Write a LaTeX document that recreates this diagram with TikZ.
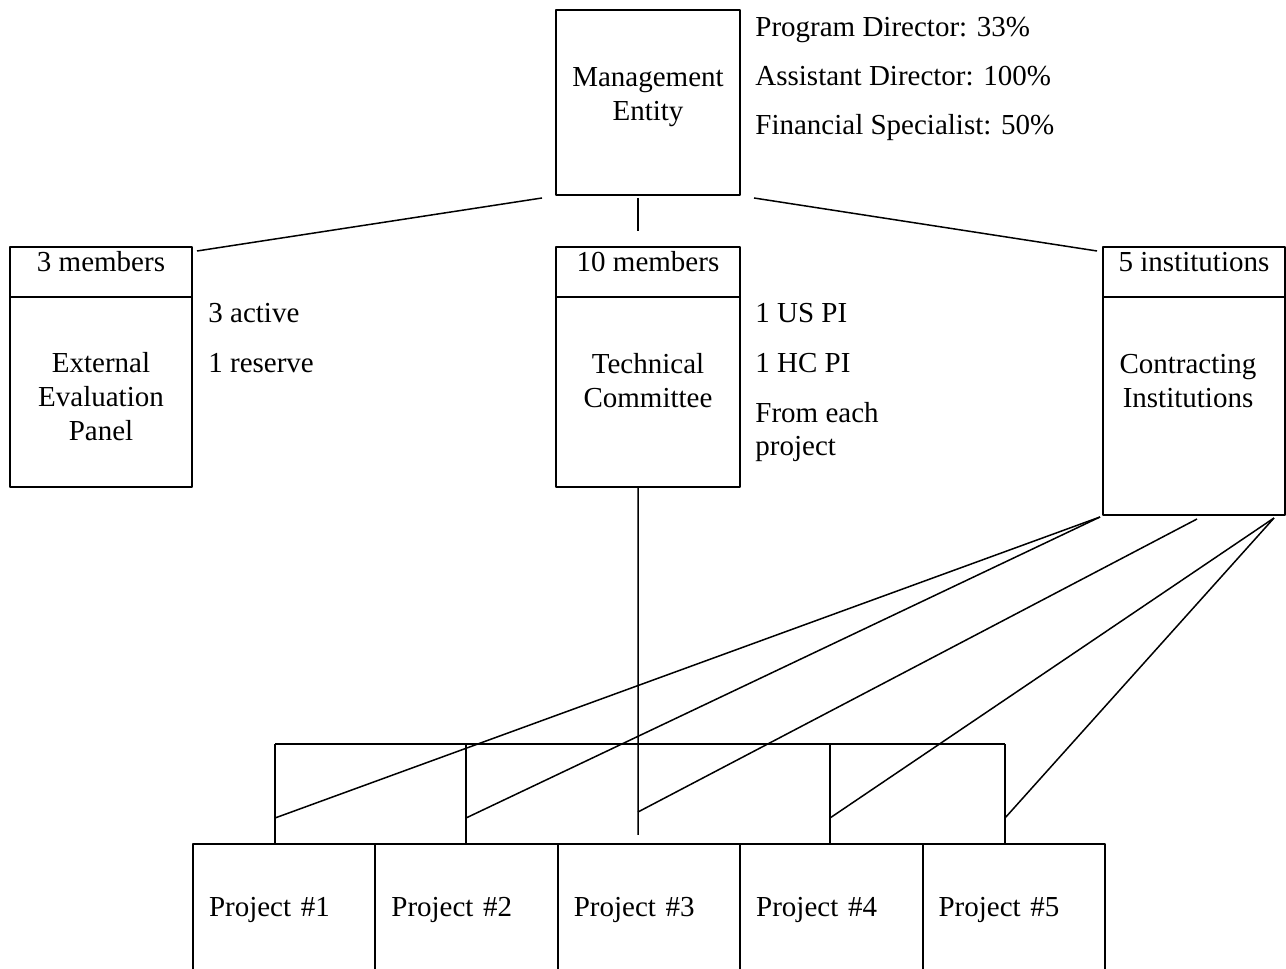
\documentclass[tikz,border=0pt]{standalone}
\usepackage{fontspec}
\setmainfont{Liberation Serif}
\begin{document}
\begin{tikzpicture}[line join=bevel,
  font=\fontsize{14.5bp}{17bp}\selectfont,
  box/.style={draw,black,line width=1bp,inner sep=0pt},
  headbox/.style={box,text height=12.5bp,text depth=12.5bp,minimum height=25bp},
  projbox/.style={box,anchor=north west,minimum height=66bp,text width=75.2bp,inner xsep=8bp,align=left},
  link/.style={black,line width=0.75bp},
  notetext/.style={anchor=base west,inner sep=0pt},
  boxtext/.style={align=center,inner sep=0pt}]
%%
\clip (0bp,0bp) rectangle (643bp,484.5bp);
\node (mgmt) at (324bp,433.25bp) [box,minimum width=92bp,minimum height=92.5bp] {};
  \node (mgmt_name) at (324bp,436bp) [boxtext] {Management\\Entity};
  \node (mgmt_note1) at (377.5bp,466bp) [notetext] {Program Director: 33\%};
  \node (mgmt_note2) at (377.5bp,441.5bp) [notetext] {Assistant Director: 100\%};
  \node (mgmt_note3) at (377.5bp,417bp) [notetext] {Financial Specialist: 50\%};
%
  \node (eep_head) at (50.5bp,348.5bp) [headbox,minimum width=91bp] {3 members};
  \node (eep) at (50.5bp,288.5bp) [box,minimum width=91bp,minimum height=95bp] {};
  \node (eep_name) at (50.5bp,286bp) [boxtext] {External\\Evaluation\\Panel};
  \node (eep_note1) at (104bp,323bp) [notetext] {3 active};
  \node (eep_note2) at (104bp,298bp) [notetext] {1 reserve};
%
  \node (tc_head) at (324bp,348.5bp) [headbox,minimum width=92bp] {10 members};
  \node (tc) at (324bp,288.5bp) [box,minimum width=92bp,minimum height=95bp] {};
  \node (tc_name) at (324bp,294bp) [boxtext] {Technical\\Committee};
  \node (tc_note1) at (377.5bp,323bp) [notetext] {1 US PI};
  \node (tc_note2) at (377.5bp,298bp) [notetext] {1 HC PI};
  \node (tc_note3) at (377.5bp,273bp) [notetext] {From each};
  \node (tc_note4) at (377.5bp,256.5bp) [notetext] {project};
%
  \node (ci_head) at (597bp,348.5bp) [headbox,minimum width=91bp] {5 institutions};
  \node (ci) at (597bp,281.5bp) [box,minimum width=91bp,minimum height=109bp] {};
  \node (ci_name) at (594bp,294bp) [boxtext] {Contracting\\Institutions};
%
  \node (p1) at (96bp,63bp) [projbox] {Project \#1};
  \node (p2) at (187.2bp,63bp) [projbox] {Project \#2};
  \node (p3) at (278.4bp,63bp) [projbox] {Project \#3};
  \node (p4) at (369.6bp,63bp) [projbox] {Project \#4};
  \node (p5) at (460.8bp,63bp) [projbox] {Project \#5};
%
  \coordinate (bus_1) at (137.5bp,112.5bp);
  \coordinate (bus_2) at (233bp,112.5bp);
  \coordinate (bus_4) at (415bp,112.5bp);
  \coordinate (bus_5) at (502.5bp,112.5bp);
  \coordinate (tap_1) at (137.5bp,75.5bp);
  \coordinate (tap_2) at (233bp,75.5bp);
  \coordinate (tap_3) at (319bp,78.5bp);
  \coordinate (tap_4) at (415bp,75.5bp);
  \coordinate (tap_5) at (502.5bp,75.5bp);
  \coordinate (tc_foot) at (319bp,67bp);
%
  \draw [link] ([xshift=-6.5bp,yshift=-1bp]mgmt.south west) -- ([xshift=2bp,yshift=-2.5bp]eep_head.north east);
  \draw [link] ([xshift=-5bp,yshift=-1bp]mgmt.south) -- ([xshift=-5bp,yshift=7.5bp]tc_head.north);
  \draw [link] ([xshift=6.5bp,yshift=-1bp]mgmt.south east) -- ([xshift=-2.5bp,yshift=-2.5bp]ci_head.north west);
  \draw [link] ([xshift=-5bp]tc.south) -- (tc_foot);
  \draw [link] (bus_1) -- (bus_5);
  \draw [link] (bus_1) -- (bus_1 |- p1.north);
  \draw [link] (bus_2) -- (bus_2 |- p2.north);
  \draw [link] (bus_4) -- (bus_4 |- p4.north);
  \draw [link] (bus_5) -- (bus_5 |- p5.north);
  \draw [link] ([xshift=-1bp,yshift=-0.5bp]ci.south west) -- (tap_1);
  \draw [link] ([xshift=-1bp,yshift=-0.5bp]ci.south west) -- (tap_2);
  \draw [link] ([xshift=1.5bp,yshift=-1.5bp]ci.south) -- (tap_3);
  \draw [link] ([xshift=-6bp,yshift=-1bp]ci.south east) -- (tap_4);
  \draw [link] ([xshift=-6bp,yshift=-1bp]ci.south east) -- (tap_5);
%
\end{tikzpicture}
\end{document}
